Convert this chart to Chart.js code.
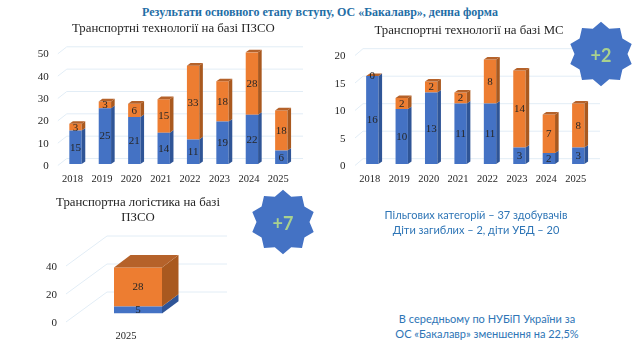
<!DOCTYPE html>
<html>
<head>
<meta charset="utf-8">
<script src="https://cdn.jsdelivr.net/npm/chart.js@4"></script>
<style>
html, body { margin: 0; background: #fff; }
#page { position: relative; width: 640px; height: 360px; overflow: hidden; }
canvas { position: absolute; }
.note { position: absolute; font-family: Lato, sans-serif; font-size: 11px; line-height: 15px; color: #2e75b6; text-align: center; white-space: nowrap; }
.title { position: absolute; font: 12.8px/15px "Liberation Serif", serif; color: #262626; text-align: center; white-space: nowrap; }
#head { position: absolute; left: 0; width: 640px; top: 5px; text-align: center; font: bold 12px "Liberation Serif", serif; color: #1f6ea6; }
.star { position: absolute; }
</style>
</head>
<body>
<div id="page">
  <div id="head">Результати основного етапу вступу, ОС «Бакалавр», денна форма</div>
  <canvas id="chartPzso" width="345" height="172" style="left:0;top:18px"></canvas>
  <canvas id="chartMs" width="338" height="172" style="left:300px;top:18px"></canvas>
  <canvas id="chartLog" width="276" height="170" style="left:0;top:190px"></canvas>
  <div class="title" style="left:72px;width:201px;top:21px">Транспортні технології на базі ПЗСО</div>
  <div class="title" style="left:369px;width:200px;top:23px">Транспортні технології на базі МС</div>
  <div class="title" style="left:38px;width:200px;top:195px">Транспортна логістика на базі<br>ПЗСО</div>
  <div class="note" style="left:376px;width:200px;top:207px">Пільгових категорій – 37 здобувачів<br>Діти загиблих – 2, діти УБД – 20</div>
  <div class="note" style="left:387px;width:200px;top:311px">В середньому по НУБіП України за<br>ОС «Бакалавр» зменшення на 22,5%</div>
  <svg class="star" id="starMs" width="70" height="70" style="left:565.5px;top:19.3px"></svg>
  <svg class="star" id="starLog" width="70" height="70" style="left:247.7px;top:186.7px"></svg>
</div>
<script>
const years = ['2018', '2019', '2020', '2021', '2022', '2023', '2024', '2025'];
const pzsoBlue = [15, 25, 21, 14, 11, 19, 22, 6];
const pzsoOrange = [3, 3, 6, 15, 33, 18, 28, 18];
const msBlue = [16, 10, 13, 11, 11, 3, 2, 3];
const msOrange = [0, 2, 2, 2, 8, 14, 7, 8];
const logYears = ['2025'];
const logBlue = [5];
const logOrange = [28];

const SERIF = '"Liberation Serif", serif';
const BLUE = '#4472c4', BLUE_SIDE = '#2f5597';
const ORANGE = '#ed7d31', ORANGE_SIDE = '#a9591f', ORANGE_TOP = '#b5622a';
const GRID = '#e2edf6', INK = '#262626';

// the library has no 3d bars, so the walls and the bar sides are added around its own elements
const cube = {
    id: 'cube',
    beforeDatasetsDraw(chart, args, opts) {
        const c = chart.ctx, a = chart.chartArea, y = chart.scales.y;
        c.save();
        c.strokeStyle = GRID;
        c.lineWidth = 1;
        y.ticks.forEach(t => {
            const py = y.getPixelForValue(t.value);
            c.beginPath();
            c.moveTo(a.left + opts.frontX, py + opts.frontY);
            c.lineTo(a.left + opts.backX, py + opts.backY);
            c.lineTo(a.right + opts.rightX, py + opts.backY);
            c.stroke();
        });
        c.restore();
    },
    afterDatasetsDraw(chart, args, opts) {
        const c = chart.ctx, dx = opts.dx, dy = opts.dy;
        const last = chart.data.datasets.length - 1;
        const face = (pts, col) => {
            c.fillStyle = col;
            c.beginPath();
            pts.forEach((p, i) => i ? c.lineTo(p[0], p[1]) : c.moveTo(p[0], p[1]));
            c.closePath();
            c.fill();
        };
        chart.data.datasets.forEach((ds, i) => {
            chart.getDatasetMeta(i).data.forEach(bar => {
                const l = bar.x - bar.width / 2, r = bar.x + bar.width / 2;
                face([[r, bar.y], [r + dx, bar.y - dy], [r + dx, bar.base - dy], [r, bar.base]], ds.sideColor);
                if (i === last) {
                    face([[l, bar.y], [l + dx, bar.y - dy], [r + dx, bar.y - dy], [r, bar.y]], ORANGE_TOP);
                }
            });
        });
        c.save();
        c.fillStyle = INK;
        c.font = '11px ' + SERIF;
        c.textAlign = 'center';
        c.textBaseline = 'middle';
        chart.data.datasets.forEach((ds, i) => {
            chart.getDatasetMeta(i).data.forEach((bar, j) => {
                c.fillText(ds.data[j], bar.x, (bar.y + bar.base) / 2 + 0.5);
            });
        });
        c.restore();
    }
};

function stacked(id, labels, blue, orange, s) {
    return new Chart(document.getElementById(id), {
        type: 'bar',
        data: {
            labels: labels,
            datasets: [
                { data: blue, backgroundColor: BLUE, sideColor: BLUE_SIDE },
                { data: orange, backgroundColor: ORANGE, sideColor: ORANGE_SIDE }
            ]
        },
        options: {
            responsive: false,
            animation: false,
            barPercentage: s.bar,
            categoryPercentage: 1,
            layout: { padding: { top: s.padTop, right: s.padRight } },
            plugins: {
                legend: { display: false },
                tooltip: { enabled: false },
                cube: s.cube
            },
            scales: {
                x: {
                    stacked: true,
                    grid: { display: false, drawTicks: false },
                    border: { display: false },
                    afterFit(scale) { scale.height = s.xHeight; },
                    ticks: { color: INK, padding: s.xPad, labelOffset: s.xOffset, maxRotation: 0, font: { family: SERIF, size: 10.5 } }
                },
                y: {
                    stacked: true,
                    min: 0,
                    max: s.max,
                    grid: { display: false, drawTicks: false },
                    border: { display: false },
                    afterFit(scale) { scale.width = s.yWidth; },
                    ticks: { stepSize: s.step, color: INK, padding: s.yPad, labelOffset: s.yOffset, font: { family: SERIF, size: 11 } }
                }
            }
        },
        plugins: [cube]
    });
}

stacked('chartPzso', years, pzsoBlue, pzsoOrange, {
    padTop: 34.3,
    max: 50, step: 10, bar: 0.42, padRight: 49, yWidth: 60.8, xHeight: 26,
    xPad: 9, xOffset: -3, yPad: 12, yOffset: 2,
    cube: { dx: 3.6, dy: 2.6, frontX: -3, frontY: 1.5, backX: 6, backY: -5.5, rightX: 7 }
});

stacked('chartMs', years, msBlue, msOrange, {
    padTop: 36,
    max: 20, step: 5, bar: 0.42, padRight: 45, yWidth: 57.6, xHeight: 26,
    xPad: 9, xOffset: -2.5, yPad: 12, yOffset: 2.5,
    cube: { dx: 3.6, dy: 2.6, frontX: -2.6, frontY: 1.5, backX: 5.4, backY: -5.3, rightX: 7 }
});

stacked('chartLog', logYears, logBlue, logOrange, {
    padTop: 67.6,
    max: 40, step: 20, bar: 1 / 3, padRight: 66, yWidth: 66, xHeight: 46.4,
    xPad: 16, xOffset: -12, yPad: 9, yOffset: 9.4,
    cube: { dx: 16.5, dy: 12.3, frontX: 0, frontY: 8.4, backX: 41, backY: -21.6, rightX: 17 }
});

function star(id, label) {
    const pts = [];
    for (let i = 0; i < 20; i++) {
        const r = i % 2 ? 26.5 : 32.3;
        const t = i * Math.PI / 10 - Math.PI / 2;
        pts.push((35 + r * Math.cos(t)).toFixed(1) + ',' + (35 + r * Math.sin(t)).toFixed(1));
    }
    document.getElementById(id).innerHTML =
        '<polygon fill="' + BLUE + '" points="' + pts.join(' ') + '"/>' +
        '<text x="35" y="36" text-anchor="middle" dominant-baseline="central" fill="#a9d18e" ' +
        'font-family="Lato, sans-serif" font-weight="bold" font-size="18">' + label + '</text>';
}
star('starMs', '+2');
star('starLog', '+7');
</script>
</body>
</html>
